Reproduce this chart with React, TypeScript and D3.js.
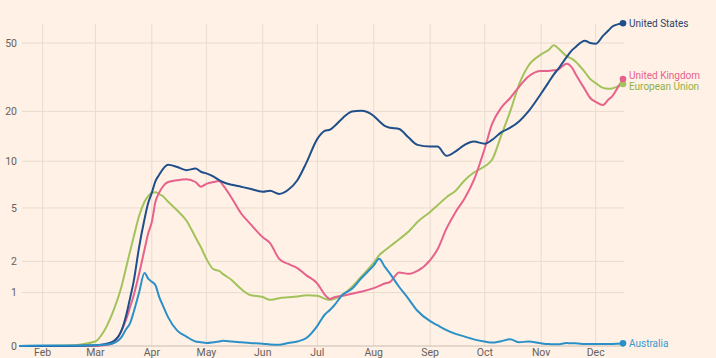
import React from 'react';
import * as d3 from 'd3';

// Daily cases per 100k (7-day avg)
const dates = [
  '2020-01-19', '2020-02-01', '2020-02-15', '2020-03-01', '2020-03-05', '2020-03-10', '2020-03-15', '2020-03-18',
  '2020-03-20', '2020-03-22', '2020-03-25', '2020-03-28', '2020-03-30', '2020-04-01', '2020-04-03', '2020-04-05',
  '2020-04-07', '2020-04-10', '2020-04-15', '2020-04-20', '2020-04-25', '2020-04-28', '2020-05-01', '2020-05-05',
  '2020-05-08', '2020-05-10', '2020-05-15', '2020-05-20', '2020-05-25', '2020-06-01', '2020-06-05', '2020-06-10',
  '2020-06-15', '2020-06-20', '2020-06-25', '2020-07-01', '2020-07-05', '2020-07-08', '2020-07-10', '2020-07-15',
  '2020-07-20', '2020-07-25', '2020-08-01', '2020-08-04', '2020-08-07', '2020-08-10', '2020-08-15', '2020-08-20',
  '2020-08-25', '2020-09-01', '2020-09-05', '2020-09-10', '2020-09-15', '2020-09-20', '2020-09-25', '2020-10-01',
  '2020-10-05', '2020-10-10', '2020-10-15', '2020-10-20', '2020-10-25', '2020-11-01', '2020-11-05', '2020-11-08',
  '2020-11-10', '2020-11-15', '2020-11-18', '2020-11-20', '2020-11-25', '2020-11-28', '2020-12-01', '2020-12-05',
  '2020-12-08', '2020-12-10', '2020-12-13', '2020-12-16',
];

const unitedStates = [
  0, 0, 0, 0.01, 0.02, 0.05, 0.2, 0.5, 0.85, 1.3, 2.6, 4.2, 5.4, 6.3, 7.5, 8.2,
  8.9, 9.5, 9.2, 8.8, 9.0, 8.6, 8.4, 8.0, 7.6, 7.4, 7.1, 6.9, 6.7, 6.4, 6.5, 6.2,
  6.6, 7.6, 9.8, 13.7, 15.3, 15.6, 16.2, 18.3, 20, 20.2, 18.8, 17.5, 16.4, 16.0, 15.7, 14.0,
  12.6, 12.3, 12.3, 10.8, 11.5, 12.6, 13.2, 12.8, 13.5, 15.0, 16.0, 17.5, 20.0, 25.5, 29.5, 33,
  35, 41.5, 45.5, 47.5, 51.5, 50, 49.5, 55, 59, 62, 64, 65,
];

const unitedKingdom = [
  0, 0, 0, 0, 0.01, 0.03, 0.2, 0.42, 0.65, 0.92, 1.55, 2.5, 3.3, 4.0, 5.5, 6.3,
  6.9, 7.4, 7.6, 7.7, 7.4, 6.9, 7.2, 7.4, 7.5, 7.1, 5.8, 4.6, 3.9, 3.1, 2.8, 2.1,
  1.9, 1.75, 1.5, 1.25, 0.95, 0.84, 0.88, 0.92, 0.97, 1.02, 1.12, 1.18, 1.25, 1.3, 1.6, 1.55,
  1.65, 2.05, 2.5, 3.6, 4.7, 5.8, 7.6, 12, 16.8, 21, 24, 28, 32, 34.5, 34.5, 34.8,
  35, 38, 36, 33, 27, 24, 22.8, 21.8, 23.5, 24.5, 27.5, 31,
];

const europeanUnion = [
  0, 0, 0.005, 0.06, 0.18, 0.5, 1.1, 1.8, 2.4, 3.1, 4.4, 5.5, 6.0, 6.3, 6.35, 6.2,
  6.0, 5.5, 4.8, 4.1, 3.1, 2.6, 2.1, 1.7, 1.65, 1.55, 1.35, 1.1, 0.94, 0.89, 0.82, 0.86,
  0.88, 0.9, 0.93, 0.92, 0.85, 0.82, 0.84, 0.95, 1.15, 1.45, 1.95, 2.25, 2.45, 2.65, 3.0, 3.4,
  4.0, 4.7, 5.2, 5.9, 6.5, 7.6, 8.5, 9.3, 10.2, 14.3, 20, 29, 37, 43, 45.5, 48.5,
  47, 42, 40.5, 39, 34, 31, 29.3, 27.5, 27.2, 27.3, 28, 29,
];

const australia = [
  0, 0.005, 0.005, 0.01, 0.015, 0.03, 0.11, 0.25, 0.34, 0.55, 1.0, 1.58, 1.4, 1.3, 1.2, 0.9,
  0.7, 0.45, 0.22, 0.13, 0.06, 0.05, 0.04, 0.05, 0.06, 0.07, 0.06, 0.05, 0.04, 0.03, 0.02, 0.015,
  0.04, 0.06, 0.11, 0.3, 0.5, 0.6, 0.68, 0.95, 1.1, 1.4, 1.85, 2.1, 1.8, 1.55, 1.15, 0.85,
  0.58, 0.38, 0.31, 0.23, 0.17, 0.13, 0.09, 0.06, 0.045, 0.065, 0.09, 0.05, 0.06, 0.035, 0.025, 0.022,
  0.022, 0.04, 0.035, 0.035, 0.026, 0.026, 0.026, 0.026, 0.026, 0.026, 0.03, 0.035,
];

const yTicks = [0, 1, 2, 5, 10, 20, 50];

const seriesNames = ['European Union', 'United Kingdom', 'United States', 'Australia'];
const seriesValues = [europeanUnion, unitedKingdom, unitedStates, australia];
const seriesColors = ['#a2c35c', '#e6628c', '#1f4f8a', '#2b90c8'];
const labelColors = ['#8fb046', '#e6628c', '#2e4466', '#3a98cc'];
// nudges so the two close labels don't collide
const labelNudge = [3, -3, 0, 0];

const BG = '#fff1e5';
const parse = d3.utcParse('%Y-%m-%d');

export default function App() {
  const width = 716;
  const height = 358;

  const x = d3
    .scaleUtc()
    .domain([parse('2020-01-19')!, parse('2020-12-16')!])
    .range([19, 623]);

  const y = d3.scaleSymlog().constant(1).domain([0, 64.3]).range([346, 24]);

  const months = d3.utcMonth.range(parse('2020-02-01')!, parse('2020-12-02')!);
  const fmt = d3.utcFormat('%b');

  const parsed = dates.map(d => parse(d)!);

  const line = d3
    .line<number>()
    .x((_, i) => x(parsed[i]))
    .y(v => y(v))
    .curve(d3.curveMonotoneX);

  const font = 'Roboto, "Noto Sans", sans-serif';
  const last = parsed.length - 1;

  return (
    <div style={{ position: 'absolute', left: 0, top: 0 }}>
      <style>{`body{margin:0}`}</style>
      <svg width={width} height={height} style={{ display: 'block', background: BG }}>
        <rect width={width} height={height} fill={BG} />

        {/* vertical grid */}
        {months.map(m => (
          <line key={m.toISOString()} x1={x(m)} x2={x(m)} y1={24} y2={346} stroke="#eadbcf" strokeWidth={1} />
        ))}

        {/* horizontal grid + y labels */}
        {yTicks.map(t => (
          <g key={t}>
            <line
              x1={22}
              x2={624}
              y1={y(t)}
              y2={y(t)}
              stroke={t === 0 ? '#c9bcb1' : '#eadbcf'}
              strokeWidth={1}
            />
            <text
              x={17}
              y={y(t)}
              dy="0.35em"
              textAnchor="end"
              fontFamily={font}
              fontSize={10.5}
              fill="#66605c"
            >
              {t}
            </text>
          </g>
        ))}

        {/* month labels */}
        {months.map(m => (
          <text
            key={'l' + m.toISOString()}
            x={x(m)}
            y={356}
            textAnchor="middle"
            fontFamily={font}
            fontSize={10.5}
            fill="#66605c"
          >
            {fmt(m)}
          </text>
        ))}

        {/* series */}
        {seriesValues.map((vals, i) => (
          <path
            key={seriesNames[i]}
            d={line(vals) ?? ''}
            fill="none"
            stroke={seriesColors[i]}
            strokeWidth={2}
            strokeLinejoin="round"
          />
        ))}

        {/* end dots + labels */}
        {seriesValues.map((vals, i) => (
          <circle
            key={'e' + seriesNames[i]}
            cx={x(parsed[last])}
            cy={y(vals[last])}
            r={3.3}
            fill={seriesColors[i]}
          />
        ))}
        {[1, 0, 2, 3].map(i => (
          <text
            key={'t' + seriesNames[i]}
            x={629}
            y={y(seriesValues[i][last]) + labelNudge[i]}
            dy="0.35em"
            fontFamily={font}
            fontSize={10}
            fill={labelColors[i]}
          >
            {seriesNames[i]}
          </text>
        ))}
      </svg>
    </div>
  );
}
